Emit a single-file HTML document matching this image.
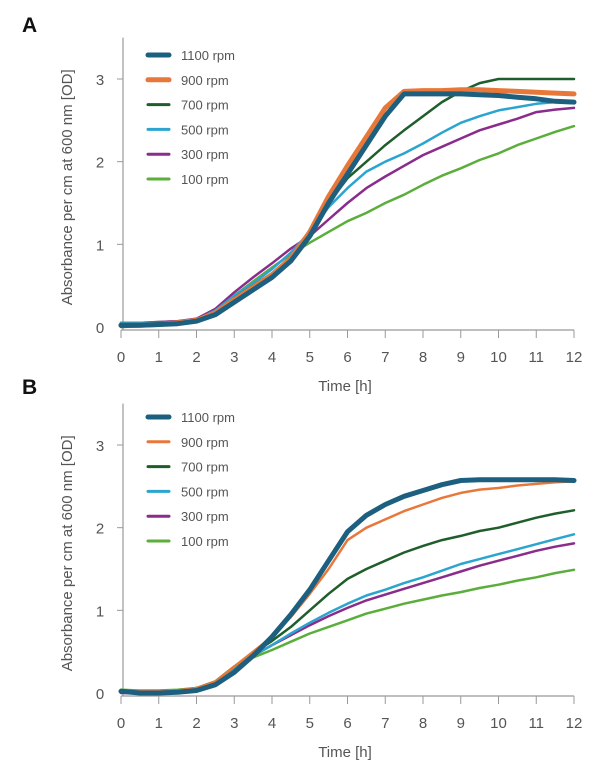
<!DOCTYPE html>
<html><head><meta charset="utf-8">
<style>
html,body{margin:0;padding:0;background:#fff;}
svg{display:block;font-family:"Liberation Sans",sans-serif;}
</style></head>
<body>
<svg id="chart" width="600" height="776" viewBox="0 0 600 776" xmlns="http://www.w3.org/2000/svg"></svg>
<script>
const times = [0,0.5,1,1.5,2,2.5,3,3.5,4,4.5,5,5.5,6,6.5,7,7.5,8,8.5,9,9.5,10,10.5,11,11.5,12];
const seriesNames = ["1100 rpm","900 rpm","700 rpm","500 rpm","300 rpm","100 rpm"];
const xTicks = [0,1,2,3,4,5,6,7,8,9,10,11,12];
const yTicks = [0,1,2,3];
const a1100 = [0.02,0.02,0.03,0.04,0.07,0.15,0.3,0.45,0.6,0.8,1.1,1.5,1.85,2.2,2.55,2.82,2.82,2.82,2.82,2.81,2.8,2.78,2.76,2.73,2.72];
const a900 = [0.02,0.02,0.03,0.05,0.08,0.17,0.33,0.48,0.63,0.83,1.15,1.58,1.95,2.3,2.65,2.85,2.86,2.86,2.87,2.87,2.86,2.85,2.84,2.83,2.82];
const a700 = [0.0,0.01,0.03,0.05,0.08,0.18,0.35,0.5,0.65,0.85,1.15,1.5,1.8,2.0,2.2,2.38,2.55,2.72,2.85,2.95,3.0,3.0,3.0,3.0,3.0];
const a500 = [0.05,0.05,0.05,0.06,0.09,0.2,0.38,0.53,0.7,0.9,1.15,1.45,1.68,1.88,2.0,2.1,2.22,2.35,2.47,2.55,2.62,2.66,2.7,2.72,2.72];
const a300 = [0.05,0.05,0.06,0.07,0.1,0.22,0.42,0.6,0.77,0.95,1.1,1.3,1.5,1.68,1.82,1.95,2.08,2.18,2.28,2.38,2.45,2.52,2.6,2.63,2.65];
const a100 = [0.05,0.05,0.06,0.07,0.1,0.2,0.38,0.55,0.72,0.88,1.02,1.15,1.28,1.38,1.5,1.6,1.72,1.83,1.92,2.02,2.1,2.2,2.28,2.36,2.43];
const b1100 = [0.02,0,0,0.01,0.03,0.1,0.25,0.45,0.68,0.95,1.25,1.6,1.95,2.15,2.28,2.38,2.45,2.52,2.57,2.58,2.58,2.58,2.58,2.58,2.57];
const b900 = [0.02,0.02,0.02,0.03,0.06,0.14,0.32,0.5,0.68,0.92,1.2,1.5,1.85,2.0,2.1,2.2,2.28,2.36,2.42,2.46,2.48,2.51,2.53,2.55,2.56];
const b700 = [0.02,0.02,0.02,0.03,0.06,0.14,0.32,0.48,0.63,0.8,1.0,1.2,1.38,1.5,1.6,1.7,1.78,1.85,1.9,1.96,2.0,2.06,2.12,2.17,2.21];
const b500 = [0.02,0.02,0,0.02,0.05,0.13,0.3,0.45,0.58,0.72,0.85,0.97,1.08,1.18,1.25,1.33,1.4,1.48,1.56,1.62,1.68,1.74,1.8,1.86,1.92];
const b300 = [0,0,0.01,0.02,0.04,0.12,0.3,0.45,0.58,0.7,0.82,0.93,1.03,1.12,1.19,1.26,1.33,1.4,1.47,1.54,1.6,1.66,1.72,1.77,1.81];
const b100 = [0.04,0.03,0.03,0.04,0.06,0.14,0.32,0.43,0.52,0.62,0.72,0.8,0.88,0.96,1.02,1.08,1.13,1.18,1.22,1.27,1.31,1.36,1.4,1.45,1.49];

const colors = ["#1d5f7f","#e8783a","#1f5e2b","#2ba5cf","#8a2c8b","#5bae3b"];
const NS = "http://www.w3.org/2000/svg";
const svg = document.getElementById("chart");
function el(tag, attrs, parent){const e=document.createElementNS(NS,tag);for(const k in attrs)e.setAttribute(k,attrs[k]);(parent||svg).appendChild(e);return e;}

function panel(letter, y0px, y3px, data, widths, legendY){
  const g = el("g",{});
  
  
  const xs = t => 121 + t*(574-121)/12;
  const ys = v => y0px + v*(y3px-y0px)/3;
  const lab = el("text",{x:22,y:y0px-(y3px-y0px)*0+0,"font-size":21,"font-weight":"bold",fill:"#111"},g);
  lab.setAttribute("y", legendY-23);
  lab.textContent = letter;
  
  
  const axisTop = ys(3.5);
  const ya = el("line",{x1:123,y1:axisTop,x2:123,y2:y0px+3,stroke:"#999","stroke-width":1.2},g);
  
  
  const xa = el("line",{x1:121,y1:y0px+3,x2:574,y2:y0px+3,stroke:"#999","stroke-width":1.2},g);
  
  
  xTicks.forEach(t=>{
    const tk = el("line",{x1:xs(t),y1:y0px+3,x2:xs(t),y2:y0px+11,stroke:"#999","stroke-width":1},g);
    
    
    const tl = el("text",{x:xs(t),y:y0px+35,"text-anchor":"middle","font-size":15,fill:"#555"},g);
    tl.textContent = t;
    
    
  });
  yTicks.forEach(v=>{
    if(v>0){
      const tk = el("line",{x1:117,y1:ys(v),x2:123,y2:ys(v),stroke:"#999","stroke-width":1},g);
      
      
    }
    const tl = el("text",{x:100,y:ys(v)+6,"text-anchor":"middle","font-size":15,fill:"#555"},g);
    tl.textContent = v;
    
    
  });
  const xt = el("text",{x:345,y:y0px+64,"text-anchor":"middle","font-size":15,fill:"#555"},g);
  xt.textContent = "Time [h]";
  
  
  const cy = (axisTop + y0px)/2 + 5;
  const yt = el("text",{x:0,y:0,"text-anchor":"middle","font-size":15,fill:"#555",transform:`translate(72,${cy}) rotate(-90)`},g);
  yt.textContent = "Absorbance per cm at 600 nm [OD]";
  
  
  // series drawn back to front: 100 first
  for(let i=data.length-1;i>=0;i--){
    const d = data[i].map((v,k)=>(k?"L":"M")+xs(times[k]).toFixed(1)+","+ys(v).toFixed(1)).join(" ");
    const p = el("path",{d:d,fill:"none",stroke:colors[i],"stroke-width":widths[i],"stroke-linejoin":"round","stroke-linecap":"round"},g);
    
    
  }
  seriesNames.forEach((n,i)=>{
    const ly = legendY + i*24.8;
    const ll = el("line",{x1:148,y1:ly,x2:169,y2:ly,stroke:colors[i],"stroke-width":Math.max(widths[i],3),"stroke-linecap":"round"},g);
    
    
    const lt = el("text",{x:181,y:ly+5,"font-size":13,fill:"#555"},g);
    lt.textContent = n;
    
    
  });
}
panel("A", 327, 79, [a1100,a900,a700,a500,a300,a100], [5,5,2.5,2.5,2.5,2.5], 55);
panel("B", 693, 445, [b1100,b900,b700,b500,b300,b100], [5,2.5,2.5,2.5,2.5,2.5], 417);
</script>
</body></html>
